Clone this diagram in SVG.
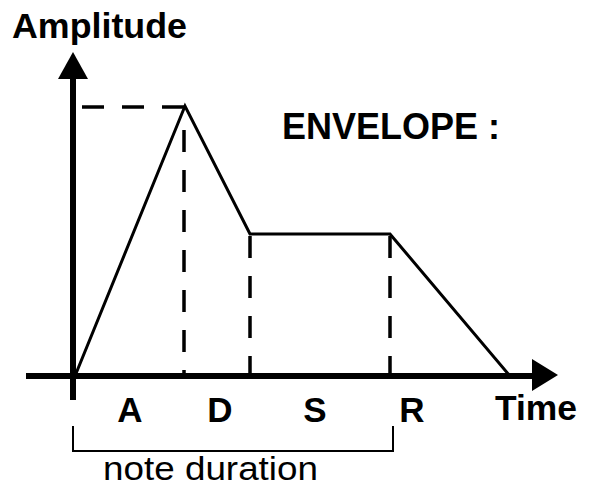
<svg xmlns="http://www.w3.org/2000/svg" width="591" height="488" viewBox="0 0 591 488">
<style>
.bold{font-family:"Liberation Sans",Arial,sans-serif;font-weight:bold;fill:#000}
.reg{font-family:"Liberation Sans",Arial,sans-serif;fill:#000}
.axis{stroke:#000;stroke-width:6;fill:none}
.env{stroke:#000;stroke-width:3;fill:none;stroke-linejoin:miter}
.dash{stroke:#000;stroke-width:3.5;fill:none;stroke-dasharray:22 18}
.br{stroke:#000;stroke-width:2;fill:none}
</style>
<rect width="591" height="488" fill="#fff"/>
<g id="axes">
<line class="axis" x1="73" y1="400" x2="73" y2="76"/>
<polygon points="73,52 58,79 88,79" fill="#000"/>
<line class="axis" x1="26" y1="376" x2="534" y2="376"/>
<polygon points="558,375 532,359 532,391" fill="#000"/>
</g>
<g id="connectors">
<polyline id="envelope" class="env" points="75,376 185,106 250,234 390,234 510,376"/>
<line class="dash" x1="82" y1="107" x2="185" y2="107" stroke-dasharray="21 20"/>
<line class="dash" x1="184" y1="130" x2="184" y2="376" stroke-dasharray="24 18"/>
<line class="dash" x1="250" y1="236" x2="250" y2="376" stroke-dasharray="22 16"/>
<line class="dash" x1="390" y1="236" x2="390" y2="376" stroke-dasharray="22 16"/>
<polyline id="bracket" class="br" points="73,426 73,451 393,451 393,426"/>
</g>
<g id="labels">
<text class="bold" x="12" y="38" font-size="35" textLength="175" lengthAdjust="spacingAndGlyphs">Amplitude</text>
<text class="bold" x="282" y="139" font-size="36" textLength="218" lengthAdjust="spacingAndGlyphs">ENVELOPE :</text>
<text class="bold" x="130" y="422" font-size="35" text-anchor="middle">A</text>
<text class="bold" x="220" y="422" font-size="35" text-anchor="middle">D</text>
<text class="bold" x="315" y="422" font-size="35" text-anchor="middle">S</text>
<text class="bold" x="412" y="422" font-size="35" text-anchor="middle">R</text>
<text class="bold" x="495" y="420" font-size="35" textLength="82" lengthAdjust="spacingAndGlyphs">Time</text>
<text class="reg" x="103" y="480" font-size="34" textLength="215" lengthAdjust="spacingAndGlyphs">note duration</text>
</g>
</svg>
